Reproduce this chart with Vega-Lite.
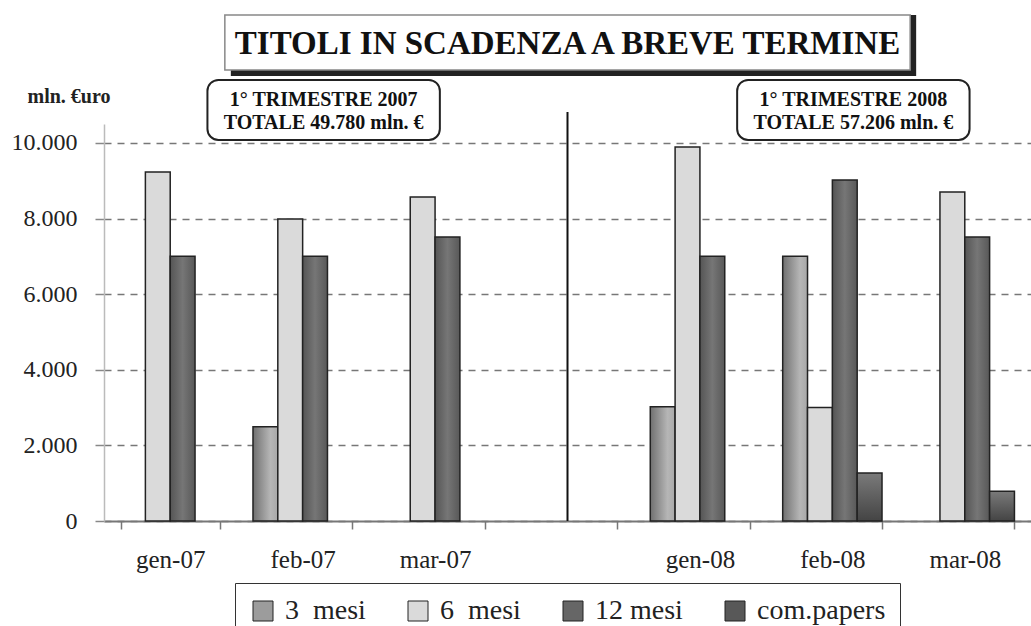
{
  "$schema": "https://vega.github.io/schema/vega-lite/v6.json",
  "autosize": "none",
  "width": 927,
  "height": 397,
  "padding": {"left": 104, "top": 124, "right": 0, "bottom": 105},
  "background": "white",
  "config": {
    "view": {"stroke": null},
    "font": "Liberation Serif",
    "text": {"font": "Liberation Serif"}
  },
  "datasets": {
    "bars": [
      {"mese": "gen-07", "serie": "6 mesi", "v": 9230},
      {"mese": "gen-07", "serie": "12 mesi", "v": 7000},
      {"mese": "feb-07", "serie": "3 mesi", "v": 2490},
      {"mese": "feb-07", "serie": "6 mesi", "v": 7990},
      {"mese": "feb-07", "serie": "12 mesi", "v": 7000},
      {"mese": "mar-07", "serie": "6 mesi", "v": 8570},
      {"mese": "mar-07", "serie": "12 mesi", "v": 7510},
      {"mese": "gen-08", "serie": "3 mesi", "v": 3020},
      {"mese": "gen-08", "serie": "6 mesi", "v": 9890},
      {"mese": "gen-08", "serie": "12 mesi", "v": 7000},
      {"mese": "feb-08", "serie": "3 mesi", "v": 7000},
      {"mese": "feb-08", "serie": "6 mesi", "v": 3000},
      {"mese": "feb-08", "serie": "12 mesi", "v": 9020},
      {"mese": "feb-08", "serie": "com.papers", "v": 1270},
      {"mese": "mar-08", "serie": "6 mesi", "v": 8700},
      {"mese": "mar-08", "serie": "12 mesi", "v": 7510},
      {"mese": "mar-08", "serie": "com.papers", "v": 790}
    ]
  },
  "encoding": {
    "x": {
      "field": "mese",
      "type": "nominal",
      "sort": null,
      "scale": {"domain": ["gen-07", "feb-07", "mar-07", "sep", "gen-08", "feb-08", "mar-08"], "paddingInner": 0.25, "paddingOuter": 0.125},
      "axis": {
        "title": null,
        "labelAngle": 0,
        "labelExpr": "datum.value == 'sep' ? '' : datum.value",
        "labelFont": "Liberation Serif",
        "labelFontSize": 25,
        "labelColor": "#222",
        "labelPadding": 18,
        "tickBand": "extent",
        "tickSize": 8,
        "tickColor": "#777",
        "tickWidth": 1.5,
        "domainColor": "#777",
        "domainWidth": 2,
        "grid": false
      }
    },
    "y": {
      "field": "v",
      "type": "quantitative",
      "scale": {"domain": [0, 10500], "nice": false},
      "axis": {
        "title": "mln. €uro",
        "titleAngle": 0,
        "titleAlign": "left",
        "titleBaseline": "middle",
        "titleX": -77,
        "titleY": -28,
        "titleFont": "Liberation Serif",
        "titleFontSize": 20,
        "titleFontWeight": "bold",
        "titleColor": "#222",
        "values": [0, 2000, 4000, 6000, 8000, 10000],
        "labelExpr": "replace(format(datum.value, ','), ',', '.')",
        "labelFont": "Liberation Serif",
        "labelFontSize": 24,
        "labelColor": "#222",
        "labelPadding": 18,
        "tickSize": 9,
        "tickColor": "#888",
        "tickWidth": 1.5,
        "domainColor": "#bbb",
        "domainWidth": 1.5,
        "grid": true,
        "gridDash": [7, 6],
        "gridColor": "#777",
        "gridWidth": 1.5
      }
    }
  },
  "layer": [
    {
      "data": {"name": "bars"},
      "mark": {"type": "point", "filled": true, "size": 0, "opacity": 1},
      "encoding": {
        "color": {
          "field": "serie",
          "type": "nominal",
          "scale": {"domain": ["3 mesi", "6 mesi", "12 mesi", "com.papers"], "range": ["#9c9c9c", "#dadada", "#666666", "#585858"]},
          "legend": {
            "title": null,
            "orient": "none",
            "legendX": 131,
            "legendY": 459,
            "direction": "horizontal",
            "strokeColor": "#333",
            "fillColor": "white",
            "padding": 14,
            "labelFont": "Liberation Serif",
            "labelFontSize": 28,
            "labelColor": "#222",
            "labelOffset": 8,
            "labelExpr": "datum.label == '3 mesi' ? '3\u00a0\u00a0mesi' : datum.label == '6 mesi' ? '6\u00a0\u00a0mesi' : datum.label",
            "symbolType": "square",
            "symbolSize": 400,
            "symbolStrokeColor": "#222",
            "symbolStrokeWidth": 1,
            "symbolOpacity": 1,
            "columnPadding": 38,
            "labelLimit": 300
          }
        }
      }
    },
    {
      "data": {"name": "bars"},
      "transform": [{"filter": "datum.serie == '3 mesi'"}],
      "mark": {"type": "bar", "stroke": "#222", "strokeWidth": 1.5,
        "fill": {"gradient": "linear", "x1": 0, "y1": 0, "x2": 1, "y2": 0, "stops": [{"offset": 0, "color": "#707070"}, {"offset": 0.7, "color": "#b6b6b6"}, {"offset": 1, "color": "#a8a8a8"}]}},
      "encoding": {
        "xOffset": {"field": "serie", "type": "nominal", "scale": {"domain": ["3 mesi", "6 mesi", "12 mesi", "com.papers"], "paddingInner": 0, "paddingOuter": 0}}
      }
    },
    {
      "data": {"name": "bars"},
      "transform": [{"filter": "datum.serie == '6 mesi'"}],
      "mark": {"type": "bar", "stroke": "#222", "strokeWidth": 1.5, "fill": "#dadada"},
      "encoding": {
        "xOffset": {"field": "serie", "type": "nominal", "scale": {"domain": ["3 mesi", "6 mesi", "12 mesi", "com.papers"], "paddingInner": 0, "paddingOuter": 0}}
      }
    },
    {
      "data": {"name": "bars"},
      "transform": [{"filter": "datum.serie == '12 mesi'"}],
      "mark": {"type": "bar", "stroke": "#222", "strokeWidth": 1.5,
        "fill": {"gradient": "linear", "x1": 0, "y1": 0, "x2": 1, "y2": 0, "stops": [{"offset": 0, "color": "#555555"}, {"offset": 0.5, "color": "#767676"}, {"offset": 1, "color": "#585858"}]}},
      "encoding": {
        "xOffset": {"field": "serie", "type": "nominal", "scale": {"domain": ["3 mesi", "6 mesi", "12 mesi", "com.papers"], "paddingInner": 0, "paddingOuter": 0}}
      }
    },
    {
      "data": {"name": "bars"},
      "transform": [{"filter": "datum.serie == 'com.papers'"}],
      "mark": {"type": "bar", "stroke": "#222", "strokeWidth": 1.5,
        "fill": {"gradient": "linear", "x1": 0, "y1": 0, "x2": 0, "y2": 1, "stops": [{"offset": 0, "color": "#7a7a7a"}, {"offset": 1, "color": "#444444"}]}},
      "encoding": {
        "xOffset": {"field": "serie", "type": "nominal", "scale": {"domain": ["3 mesi", "6 mesi", "12 mesi", "com.papers"], "paddingInner": 0, "paddingOuter": 0}}
      }
    },
    {
      "data": {"values": [{"mese": "sep", "v": 0, "v2": 10820}]},
      "mark": {"type": "rule", "color": "#111", "strokeWidth": 2},
      "encoding": {"y2": {"field": "v2"}}
    },
    {
      "data": {"values": [{"mese": "sep", "v": 11931, "v2": 13386}]},
      "mark": {"type": "bar", "width": {"band": 6.9}, "xOffset": 6, "yOffset": 6, "fill": "#222"},
      "encoding": {"y2": {"field": "v2"}}
    },
    {
      "data": {"values": [{"mese": "sep", "v": 11931, "v2": 13386}]},
      "mark": {"type": "bar", "width": {"band": 6.9}, "fill": "white", "stroke": "#888", "strokeWidth": 1.5},
      "encoding": {"y2": {"field": "v2"}}
    },
    {
      "data": {"values": [{"mese": "sep", "v": 12620, "t": "TITOLI IN SCADENZA A BREVE TERMINE"}]},
      "mark": {"type": "text", "font": "Liberation Serif", "fontSize": 33, "fontWeight": "bold", "color": "#111", "baseline": "middle", "align": "center"},
      "encoding": {"text": {"field": "t"}}
    },
    {
      "data": {"values": [
        {"mese": "feb-07", "v": 10079, "v2": 11667},
        {"mese": "feb-08", "v": 10079, "v2": 11667}
      ]},
      "mark": {"type": "bar", "width": {"band": 2.34}, "xOffset": 21, "fill": "white", "stroke": "#222", "strokeWidth": 2, "cornerRadius": 11},
      "encoding": {"y2": {"field": "v2"}}
    },
    {
      "data": {"values": [
        {"mese": "feb-07", "v": 11138, "t": "1° TRIMESTRE 2007"},
        {"mese": "feb-07", "v": 10529, "t": "TOTALE  49.780 mln. €"},
        {"mese": "feb-08", "v": 11138, "t": "1° TRIMESTRE 2008"},
        {"mese": "feb-08", "v": 10529, "t": "TOTALE  57.206 mln. €"}
      ]},
      "mark": {"type": "text", "xOffset": 21, "font": "Liberation Serif", "fontSize": 20, "fontWeight": "bold", "color": "#111", "baseline": "middle", "align": "center"},
      "encoding": {"text": {"field": "t"}}
    }
  ]
}
